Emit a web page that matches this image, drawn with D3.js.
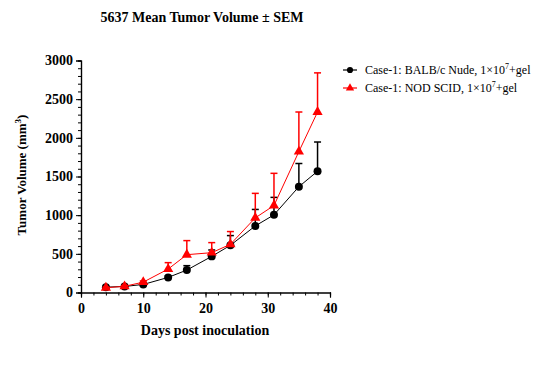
<!DOCTYPE html>
<html>
<head>
<meta charset="UTF-8">
<script src="https://d3js.org/d3.v7.min.js"></script>
<style>
  body { margin: 0; background: #fff; }
  text { font-family: "Liberation Serif", "Times New Roman", serif; }
</style>
</head>
<body>
<svg id="chart" width="539" height="365"></svg>
<script>
// days post inoculation
var days = [4, 7, 10, 14, 17, 21, 24, 28, 31, 35, 38];
// BALB/c Nude mean and SEM
var nudeMean = [69, 78, 104, 195, 290, 467, 610, 861, 1004, 1368, 1568];
var nudeSem  = [8, 10, 12, 20, 57, 83, 126, 213, 226, 300, 378];
// NOD SCID mean and SEM
var scidMean = [62, 80, 134, 303, 489, 515, 623, 965, 1125, 1822, 2334];
var scidSem  = [8, 10, 15, 83, 182, 130, 165, 317, 416, 512, 506];

var xTicks = [0, 10, 20, 30, 40];
var yTicks = [0, 500, 1000, 1500, 2000, 2500, 3000];
var legendLabels = ["Case-1: BALB/c Nude, 1\u00d710", "Case-1: NOD SCID, 1\u00d710"];

var svg = d3.select("#chart");
var x = d3.scaleLinear().domain([0, 40]).range([81, 330]);
var y = d3.scaleLinear().domain([0, 3000]).range([292.5, 60.5]);

// title
svg.append("text")
   .attr("x", 202).attr("y", 22)
   .attr("text-anchor", "middle")
   .style("font-size", "14px").style("font-weight", "bold")
   .text("5637 Mean Tumor Volume \u00b1 SEM");

// minor ticks
var xAxisG = svg.append("g").attr("transform", "translate(0," + y(0) + ")");
xAxisG.call(d3.axisBottom(x).tickValues(d3.range(0, 41, 2)).tickSize(3).tickFormat(""));
xAxisG.append("g").call(d3.axisBottom(x).tickValues(xTicks).tickSize(5).tickFormat(d3.format("d")));
var yAxisG = svg.append("g").attr("transform", "translate(" + x(0) + ",0)");
yAxisG.call(d3.axisLeft(y).tickValues(d3.range(0, 3001, 100)).tickSize(3).tickFormat(""));
yAxisG.append("g").call(d3.axisLeft(y).tickValues(yTicks).tickSize(5).tickFormat(d3.format("d")));

svg.selectAll("g")
   .attr("font-family", "Liberation Serif, Times New Roman, serif")
   .attr("font-size", 14).attr("font-weight", "bold");
svg.selectAll(".domain").attr("stroke", "#000").attr("stroke-width", 1.2);
svg.selectAll(".tick line").attr("stroke", "#000");
svg.selectAll(".tick text").attr("fill", "#000");
xAxisG.selectAll(".tick text").attr("dy", "0.9em");

// axis titles
var yt = svg.append("text")
   .attr("transform", "translate(26,175) rotate(-90)")
   .attr("text-anchor", "middle")
   .style("font-size", "13px").style("font-weight", "bold");
yt.append("tspan").text("Tumor Volume (mm");
yt.append("tspan").attr("dy", -5).style("font-size", "9px").text("3");
yt.append("tspan").attr("dy", 5).text(")");

svg.append("text")
   .attr("x", 205).attr("y", 335)
   .attr("text-anchor", "middle")
   .style("font-size", "14px").style("font-weight", "bold")
   .text("Days post inoculation");

function drawSeries(mean, sem, color, shape) {
  var pts = days.map(function(d, i) { return {d: d, m: mean[i], s: sem[i]}; });
  var g = svg.append("g");
  g.selectAll("line.err").data(pts).enter().append("line")
   .attr("x1", function(p) { return x(p.d); }).attr("x2", function(p) { return x(p.d); })
   .attr("y1", function(p) { return y(p.m); }).attr("y2", function(p) { return y(p.m + p.s); })
   .attr("stroke", color).attr("stroke-width", 1.5);
  g.selectAll("line.cap").data(pts).enter().append("line")
   .attr("x1", function(p) { return x(p.d) - 3.5; }).attr("x2", function(p) { return x(p.d) + 3.5; })
   .attr("y1", function(p) { return y(p.m + p.s); }).attr("y2", function(p) { return y(p.m + p.s); })
   .attr("stroke", color).attr("stroke-width", 1.5);
  g.append("path").datum(pts)
   .attr("fill", "none").attr("stroke", color).attr("stroke-width", 1)
   .attr("d", d3.line().x(function(p) { return x(p.d); }).y(function(p) { return y(p.m); }));
  g.selectAll("path.mk").data(pts).enter().append("path")
   .attr("transform", function(p) { return "translate(" + x(p.d) + "," + y(p.m) + ")"; })
   .attr("d", d3.symbol().type(shape).size(shape === d3.symbolCircle ? 50 : 45))
   .attr("fill", color);
}
drawSeries(nudeMean, nudeSem, "#000", d3.symbolCircle);
drawSeries(scidMean, scidSem, "#ff0000", d3.symbolTriangle);

// legend
var legend = svg.append("g");
[["#000", d3.symbolCircle], ["#ff0000", d3.symbolTriangle]].forEach(function(s, i) {
  var ly = 70 + i * 18;
  legend.append("line").attr("x1", 343).attr("x2", 357).attr("y1", ly).attr("y2", ly)
        .attr("stroke", s[0]).attr("stroke-width", 1.2);
  legend.append("path").attr("transform", "translate(350," + ly + ")")
        .attr("d", d3.symbol().type(s[1]).size(30)).attr("fill", s[0]);
  var t = legend.append("text").attr("x", 365).attr("y", ly + 4)
        .style("font-size", "12px").text(legendLabels[i]);
  t.append("tspan").attr("dy", -5).style("font-size", "8px").text("7");
  t.append("tspan").attr("dy", 5).text("+gel");
});
</script>
</body>
</html>
